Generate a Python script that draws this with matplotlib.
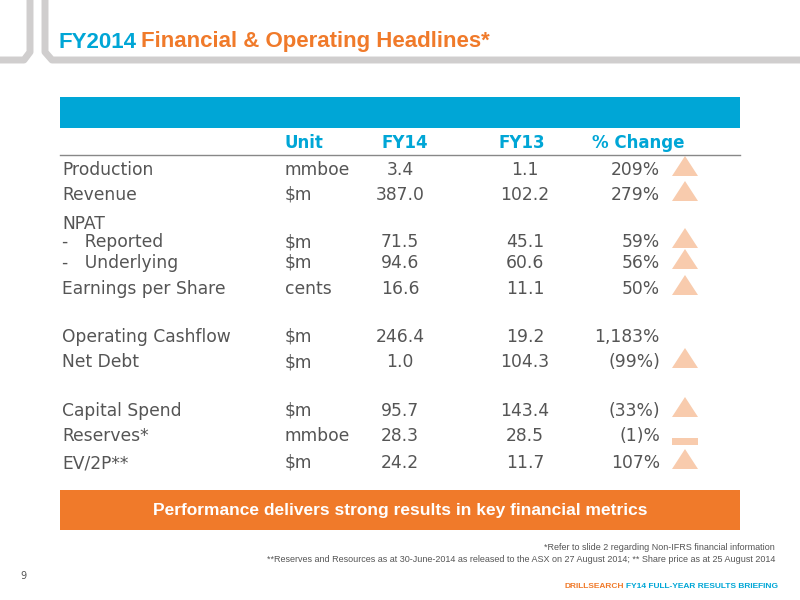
import matplotlib
matplotlib.use("Agg")
import matplotlib.pyplot as plt
from matplotlib.patches import Rectangle, Polygon

plt.rcParams['font.family'] = ['DejaVu Sans']

labels = ["Production", "Revenue", "NPAT", "-   Reported", "-   Underlying", "Earnings per Share",
          "Operating Cashflow", "Net Debt", "Capital Spend", "Reserves*", "EV/2P**"]
units = ["mmboe", "$m", "", "$m", "$m", "cents", "$m", "$m", "$m", "mmboe", "$m"]
fy14 = ["3.4", "387.0", "", "71.5", "94.6", "16.6", "246.4", "1.0", "95.7", "28.3", "24.2"]
fy13 = ["1.1", "102.2", "", "45.1", "60.6", "11.1", "19.2", "104.3", "143.4", "28.5", "11.7"]
changes = ["209%", "279%", "", "59%", "56%", "50%", "1,183%", "(99%)", "(33%)", "(1)%", "107%"]
markers = ["up", "up", "", "up", "up", "up", "", "up", "up", "flat", "up"]
row_y = [170, 195, 224, 242, 263, 289, 337, 362, 411, 436, 463]

BLUE = "#00A6D6"; ORANGE = "#F07A2A"; GREY = "#555555"; PEACH = "#F8CBAD"
LIB = ['Liberation Sans', 'DejaVu Sans']

fig = plt.figure(figsize=(8, 6), dpi=100)
ax = fig.add_axes([0, 0, 1, 1])
ax.set_xlim(0, 800); ax.set_ylim(600, 0); ax.axis("off")

fc = "#D0CECE"
ax.plot([30, 30, 24, 0], [0, 52, 60, 60], color=fc, lw=5, solid_capstyle="butt")
ax.plot([45, 45, 52, 800], [0, 52, 60, 60], color=fc, lw=5, solid_capstyle="butt")

ax.text(58, 42, "FY2014", color=BLUE, fontsize=16, fontweight="bold", va="center", family=LIB)
ax.text(141, 42, "Financial & Operating Headlines*", color=ORANGE, fontsize=16, fontweight="bold", va="center", family=LIB)

ax.add_patch(Rectangle((60, 97), 680, 31, color=BLUE, lw=0))
for txt, x, ha in [("Unit", 285, "left"), ("FY14", 405, "center"), ("FY13", 522, "center"), ("% Change", 638, "center")]:
    ax.text(x, 143, txt, color=BLUE, fontsize=12, fontweight="bold", ha=ha, va="center")
ax.plot([60, 740], [155, 155], color="#888888", lw=1)

for i, y in enumerate(row_y):
    ax.text(62, y, labels[i], color=GREY, fontsize=12.3, va="center")
    ax.text(285, y, units[i], color=GREY, fontsize=12.3, va="center")
    ax.text(400, y, fy14[i], color=GREY, fontsize=12.3, va="center", ha="center")
    ax.text(525, y, fy13[i], color=GREY, fontsize=12.3, va="center", ha="center")
    ax.text(660, y, changes[i], color=GREY, fontsize=12.3, va="center", ha="right")
    if markers[i] == "up":
        ax.add_patch(Polygon([(672, y + 6), (698, y + 6), (685, y - 14)], color=PEACH, lw=0))
    elif markers[i] == "flat":
        ax.add_patch(Rectangle((672, y + 2), 26, 7, color=PEACH, lw=0))

ax.add_patch(Rectangle((60, 490), 680, 40, color=ORANGE, lw=0))
ax.text(400, 510, "Performance delivers strong results in key financial metrics", color="white",
        fontsize=12.5, fontweight="bold", ha="center", va="center", family=LIB)

ax.text(775, 548, "*Refer to slide 2 regarding Non-IFRS financial information", fontsize=6.5,
        color=GREY, ha="right", va="center", family=LIB)
ax.text(775, 559, "**Reserves and Resources as at 30-June-2014 as released to the ASX on 27 August 2014; ** Share price as at 25 August 2014",
        fontsize=6.5, color=GREY, ha="right", va="center", family=LIB)
ax.text(20, 576, "9", fontsize=7, color=GREY, va="center")
ax.text(624, 586, "DRILLSEARCH", fontsize=6, color=ORANGE, fontweight="bold", ha="right", va="center", family=LIB)
ax.text(626, 586, "FY14 FULL-YEAR RESULTS BRIEFING", fontsize=6, color=BLUE, fontweight="bold", ha="left", va="center", family=LIB)

fig.savefig("out.png", dpi=100)
